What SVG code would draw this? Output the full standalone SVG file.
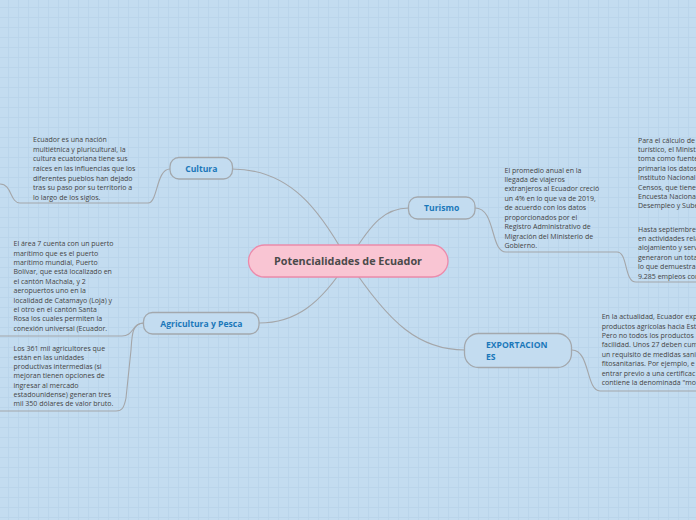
<svg xmlns="http://www.w3.org/2000/svg" width="696" height="520" viewBox="0 0 696 520">
<style>
.bg{fill:#c3dcf0}
.node{fill:#c3dcf0;stroke:#a3a8ad;stroke-width:1.3}
.center{fill:#f9c5d3;stroke:#ec8aab;stroke-width:1.3}
.lbl{font-family:"Open Sans","Noto Sans","Liberation Sans",sans-serif;font-weight:bold;fill:#1b78ba}
.clbl{font-family:"Open Sans","Noto Sans","Liberation Sans",sans-serif;font-weight:bold;fill:#4a4a4a;font-size:10.8px}
.txt{font-family:"Open Sans","Noto Sans","Liberation Sans",sans-serif;font-size:7px;fill:#444}
.conn{fill:none;stroke:#a4a6a9;stroke-width:1.1}
</style>
<defs>
<pattern id="grid" width="10" height="10" patternUnits="userSpaceOnUse" x="8" y="7">
<path d="M0 0.5H10M0.5 0V10" fill="none" stroke="#bad5eb" stroke-width="1"/>
</pattern>
</defs>
<rect class="bg" width="696" height="520"/>
<rect width="696" height="520" fill="url(#grid)"/>
<g id="connectors">
<path class="conn" d="M348,261 C320,210 290,169 232,169"/>
<path class="conn" d="M348,261 C372,222 385,208 409,208"/>
<path class="conn" d="M348,261 C320,305 295,323 259,323"/>
<path class="conn" d="M348,261 C390,325 420,350 465,350"/>
<path class="conn" d="M170,169 C156,169 158,203 148,203 L20,203 C10,203 12,184 0,184"/>
<path class="conn" d="M144,323 C132,323 134,336 122,336 L0,336"/>
<path class="conn" d="M144,323 C132,323 132,335 131,350 L126,398 C124,408 122,411 116,411 L0,411"/>
<path class="conn" d="M475,208 C496,208 490,252 506,252 L617,252 C628,252 624,282 636,282 L696,282"/>
<path class="conn" d="M572,350 C590,350 586,391 600,391 L696,391"/>
</g>
<g id="center">
<rect class="center" x="248.5" y="245" width="199.5" height="32" rx="16"/>
<text class="clbl" x="348" y="265" text-anchor="middle">Potencialidades de Ecuador</text>
</g>
<g id="cultura">
<rect class="node" x="170" y="157.5" width="62.5" height="21.5" rx="9"/>
<text class="lbl" x="201.3" y="171.5" font-size="8.6" text-anchor="middle">Cultura</text>
</g>
<g id="turismo">
<rect class="node" x="408.5" y="197" width="66.5" height="22" rx="9"/>
<text class="lbl" x="441.7" y="210.5" font-size="8.6" text-anchor="middle">Turismo</text>
</g>
<g id="agricultura">
<rect class="node" x="143.5" y="312.5" width="115.5" height="21.5" rx="9"/>
<text class="lbl" x="201.3" y="326.5" font-size="8.6" text-anchor="middle">Agricultura y Pesca</text>
</g>
<g id="exportaciones">
<rect class="node" x="464.5" y="333.5" width="107" height="34" rx="14"/>
<text class="lbl" x="486" y="348" font-size="8.6">EXPORTACION</text>
<text class="lbl" x="486" y="360.3" font-size="8.6">ES</text>
</g>
<g id="cultura-text">
<text class="txt" x="33" y="142">Ecuador es una nación</text>
<text class="txt" x="33" y="151.7">multiétnica y pluricultural, la</text>
<text class="txt" x="33" y="161.3">cultura ecuatoriana tiene sus</text>
<text class="txt" x="33" y="171">raíces en las influencias que los</text>
<text class="txt" x="33" y="180.5">diferentes pueblos han dejado</text>
<text class="txt" x="33" y="190.2">tras su paso por su territorio a</text>
<text class="txt" x="33" y="199.7">lo largo de los siglos.</text>
</g>
<g id="agri-text-1">
<text class="txt" x="13.5" y="246.2">El área 7 cuenta con un puerto</text>
<text class="txt" x="13.5" y="255.6">marítimo que es el puerto</text>
<text class="txt" x="13.5" y="265">marítimo mundial, Puerto</text>
<text class="txt" x="13.5" y="274.4">Bolívar, que está localizado en</text>
<text class="txt" x="13.5" y="283.8">el cantón Machala, y 2</text>
<text class="txt" x="13.5" y="293.2">aeropuertos uno en la</text>
<text class="txt" x="13.5" y="302.6">localidad de Catamayo (Loja) y</text>
<text class="txt" x="13.5" y="312">el otro en el cantón Santa</text>
<text class="txt" x="13.5" y="321.4">Rosa los cuales permiten la</text>
<text class="txt" x="13.5" y="330.8">conexión universal (Ecuador.</text>
</g>
<g id="agri-text-2">
<text class="txt" x="13.5" y="350.5">Los 361 mil agricultores que</text>
<text class="txt" x="13.5" y="359.8">están en las unidades</text>
<text class="txt" x="13.5" y="369.1">productivas intermedias (si</text>
<text class="txt" x="13.5" y="378.4">mejoran tienen opciones de</text>
<text class="txt" x="13.5" y="387.7">ingresar al mercado</text>
<text class="txt" x="13.5" y="397">estadounidense) generan tres</text>
<text class="txt" x="13.5" y="406.3">mil 350 dólares de valor bruto.</text>
</g>
<g id="turismo-text-1">
<text class="txt" x="504.5" y="172.5">El promedio anual en la</text>
<text class="txt" x="504.5" y="181.9">llegada de viajeros</text>
<text class="txt" x="504.5" y="191.4">extranjeros al Ecuador creció</text>
<text class="txt" x="504.5" y="200.8">un 4% en lo que va de 2019,</text>
<text class="txt" x="504.5" y="210.3">de acuerdo con los datos</text>
<text class="txt" x="504.5" y="219.7">proporcionados por el</text>
<text class="txt" x="504.5" y="229.2">Registro Administrativo de</text>
<text class="txt" x="504.5" y="238.6">Migración del Ministerio de</text>
<text class="txt" x="504.5" y="248">Gobierno.</text>
</g>
<g id="turismo-text-2">
<text class="txt" x="638" y="142.5">Para el cálculo de</text>
<text class="txt" x="638" y="151.9">turístico, el Minist</text>
<text class="txt" x="638" y="161.3">toma como fuente</text>
<text class="txt" x="638" y="170.7">primaria los datos</text>
<text class="txt" x="638" y="180.1">Instituto Nacional</text>
<text class="txt" x="638" y="189.5">Censos, que tiene</text>
<text class="txt" x="638" y="198.9">Encuesta Naciona</text>
<text class="txt" x="638" y="208.3">Desempleo y Sube</text>
<text class="txt" x="638" y="231.5">Hasta septiembre</text>
<text class="txt" x="638" y="240.9">en actividades rela</text>
<text class="txt" x="638" y="250.3">alojamiento y serv</text>
<text class="txt" x="638" y="259.7">generaron un tota</text>
<text class="txt" x="638" y="269.1">lo que demuestra</text>
<text class="txt" x="638" y="278.5">9.285 empleos cor</text>
</g>
<g id="export-text">
<text class="txt" x="601.7" y="319.2">En la actualidad, Ecuador exp</text>
<text class="txt" x="601.7" y="328.6">productos agrícolas hacia Est</text>
<text class="txt" x="601.7" y="338">Pero no todos los productos</text>
<text class="txt" x="601.7" y="347.4">facilidad. Unos 27 deben cum</text>
<text class="txt" x="601.7" y="356.8">un requisito de medidas sani</text>
<text class="txt" x="601.7" y="366.2">fitosanitarias. Por ejemplo, e</text>
<text class="txt" x="601.7" y="375.6">entrar previo a una certificac</text>
<text class="txt" x="601.7" y="385">contiene la denominada "mo</text>
</g>
</svg>
